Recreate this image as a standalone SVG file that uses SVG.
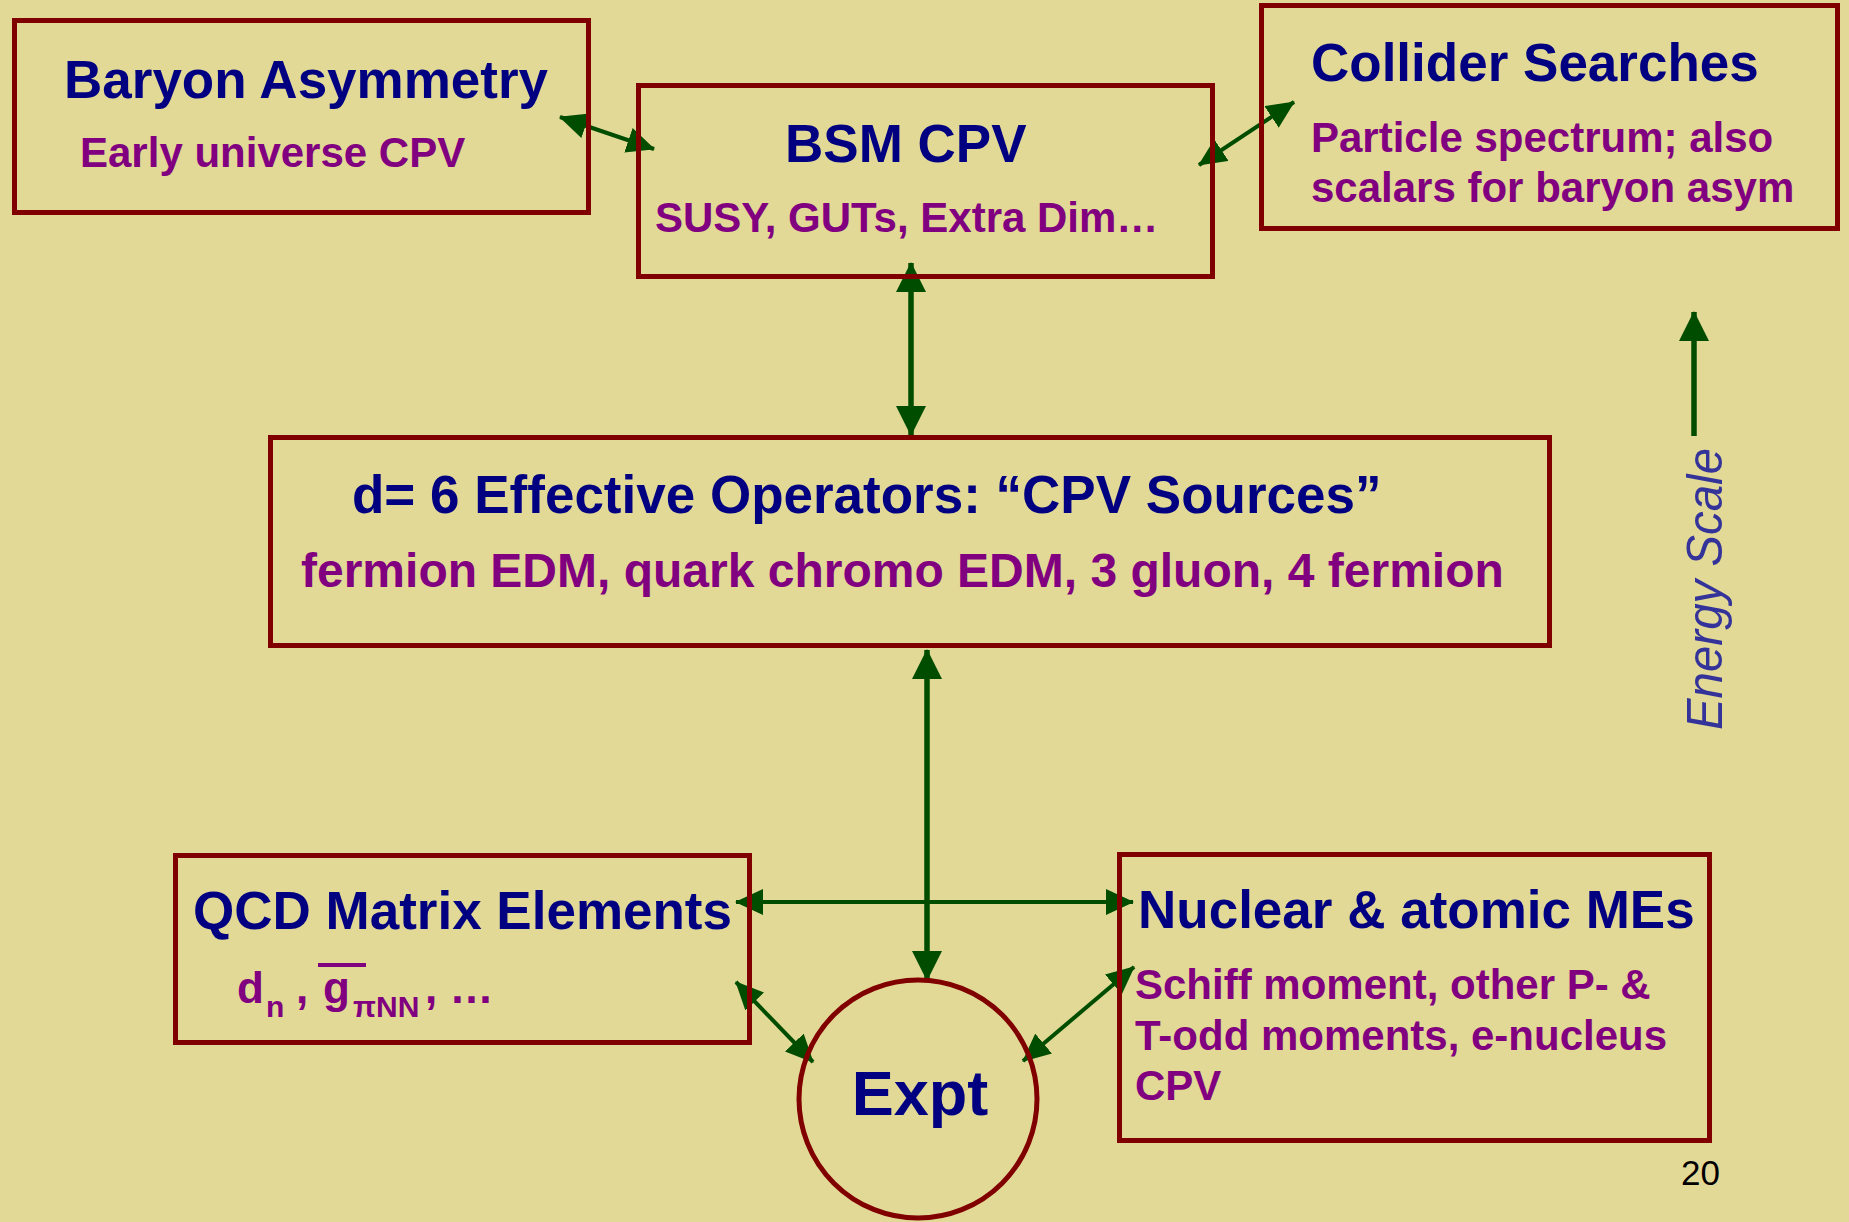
<svg xmlns="http://www.w3.org/2000/svg" width="1849" height="1222" viewBox="0 0 1849 1222">
<style>
.box{fill:none;stroke:#800000;stroke-width:5}
.t{font-family:"Liberation Sans",Arial,sans-serif;font-weight:bold;fill:#000080;font-size:53px}
.s{font-family:"Liberation Sans",Arial,sans-serif;font-weight:bold;fill:#800080;font-size:42px}
.c{stroke:#004d00;fill:none}
.thick{stroke-width:5.5}
.thin{stroke-width:4}
</style>
<defs>
<marker id="big" markerUnits="userSpaceOnUse" viewBox="0 0 30 30" markerWidth="30" markerHeight="30" refX="29" refY="15" orient="auto-start-reverse"><path d="M0,0 L30,15 L0,30 z" fill="#004d00"/></marker>
<marker id="small" markerUnits="userSpaceOnUse" viewBox="0 0 28 26" markerWidth="28" markerHeight="26" refX="27" refY="13" orient="auto-start-reverse"><path d="M0,0 L28,13 L0,26 z" fill="#004d00"/></marker>
</defs>
<rect width="1849" height="1222" fill="#E3D996"/>
<g id="connectors">
<line class="c thin" x1="560" y1="117" x2="654" y2="149" marker-start="url(#small)" marker-end="url(#small)"/>
<line class="c thin" x1="1199" y1="165" x2="1294" y2="102" marker-start="url(#small)" marker-end="url(#small)"/>
<line class="c thick" x1="911" y1="263" x2="911" y2="435" marker-start="url(#big)" marker-end="url(#big)"/>
<line class="c thick" x1="927" y1="650" x2="927" y2="980" marker-start="url(#big)" marker-end="url(#big)"/>
<line class="c thin" x1="736" y1="902" x2="1133" y2="902" marker-start="url(#small)" marker-end="url(#small)"/>
<line class="c thin" x1="736" y1="982" x2="813" y2="1062" marker-start="url(#small)" marker-end="url(#small)"/>
<line class="c thin" x1="1023" y1="1061" x2="1134" y2="967" marker-start="url(#small)" marker-end="url(#small)"/>
<line class="c thick" x1="1694" y1="436" x2="1694" y2="312" marker-end="url(#big)"/>
</g>
<g id="baryon">
<rect class="box" x="14.5" y="20.5" width="574" height="192"/>
<text class="t" x="64" y="98">Baryon Asymmetry</text>
<text class="s" x="80" y="167">Early universe CPV</text>
</g>
<g id="bsm">
<rect class="box" x="638.5" y="85.5" width="574" height="191"/>
<text class="t" x="785" y="162">BSM CPV</text>
<text class="s" x="655" y="232">SUSY, GUTs, Extra Dim…</text>
</g>
<g id="collider">
<rect class="box" x="1261.5" y="5.5" width="576" height="223"/>
<text class="t" x="1311" y="81">Collider Searches</text>
<text class="s" x="1311" y="152">Particle spectrum; also</text>
<text class="s" x="1311" y="202">scalars for baryon asym</text>
</g>
<g id="operators">
<rect class="box" x="270.5" y="437.5" width="1279" height="208"/>
<text class="t" x="352" y="513">d= 6 Effective Operators: “CPV Sources”</text>
<text class="s" x="301" y="587" style="font-size:48px">fermion EDM, quark chromo EDM, 3 gluon, 4 fermion</text>
</g>
<g id="qcd">
<rect class="box" x="175.5" y="855.5" width="574" height="187"/>
<text class="t" x="193" y="929">QCD Matrix Elements</text>
<text class="s" style="font-size:44px"><tspan x="237" y="1003">d</tspan><tspan x="266" y="1017" style="font-size:30px">n</tspan><tspan x="296" y="1003">,</tspan><tspan x="323" y="1003">g</tspan><tspan x="353" y="1017" style="font-size:30px">πNN</tspan><tspan x="425" y="1003">, …</tspan></text>
<rect x="318" y="963" width="48" height="4" fill="#800080"/>
</g>
<g id="nuclear">
<rect class="box" x="1119.5" y="854.5" width="590" height="286"/>
<text class="t" x="1138" y="928">Nuclear &amp; atomic MEs</text>
<text class="s" x="1135" y="999">Schiff moment, other P- &amp;</text>
<text class="s" x="1135" y="1050">T-odd moments, e-nucleus</text>
<text class="s" x="1135" y="1100">CPV</text>
</g>
<g id="expt">
<circle cx="918" cy="1099" r="119" fill="none" stroke="#800000" stroke-width="5"/>
<text class="t" x="920" y="1115" text-anchor="middle" style="font-size:63px">Expt</text>
</g>
<g id="energy">
<text transform="translate(1722,730) rotate(-90)" x="0" y="0" textLength="282" lengthAdjust="spacingAndGlyphs" style="font-family:'Liberation Sans',Arial,sans-serif;font-style:italic;font-size:50px;fill:#333399">Energy Scale</text>
</g>
<text x="1681" y="1185" style="font-family:'Liberation Sans',Arial,sans-serif;font-size:35px;fill:#000">20</text>
</svg>
